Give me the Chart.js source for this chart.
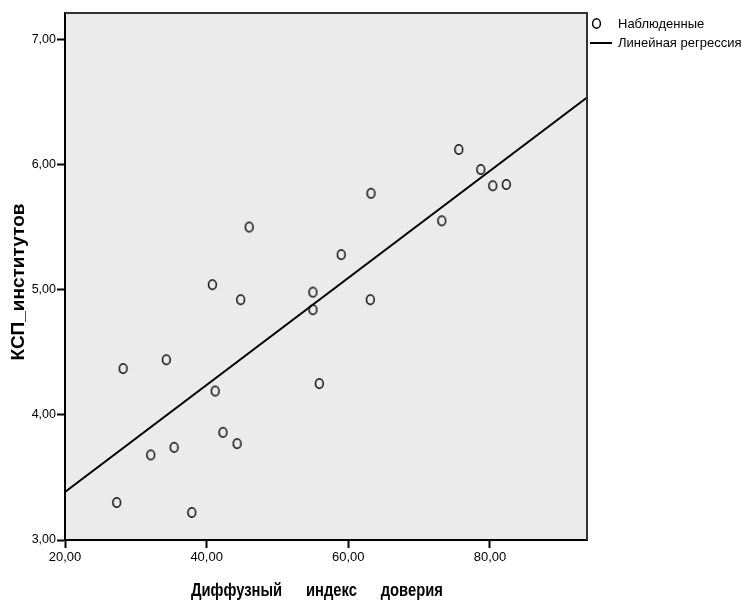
<!DOCTYPE html>
<html>
<head>
<meta charset="utf-8">
<script src="https://cdn.jsdelivr.net/npm/chart.js@4"></script>
<style>
  body { margin: 0; background: #fff; }
  canvas { display: block; }
</style>
</head>
<body>
<canvas id="scatterChart" width="741" height="604"></canvas>
<script>
// данные
const trustIndex = [27.3, 28.2, 32.1, 34.3, 35.4, 37.9, 40.8, 41.2, 42.3, 44.3, 44.8, 46.0,
                    55.0, 55.0, 55.9, 59.0, 63.2, 63.1, 73.2, 75.6, 78.7, 80.4, 82.3];
const kspValues = [3.30, 4.37, 3.68, 4.44, 3.74, 3.22, 5.04, 4.19, 3.86, 3.77, 4.92, 5.50,
                   4.98, 4.84, 4.25, 5.28, 5.77, 4.92, 5.55, 6.12, 5.96, 5.83, 5.84];
const xTicks = [20, 40, 60, 80];
const yTicks = [3, 4, 5, 6, 7];
const xRange = [20, 93.7];
const yRange = [3, 7.21];
const regIntercept = 2.528;
const regSlope = 0.04277;
const xTitleWords = ['Диффузный', 'индекс', 'доверия'];

const fontName = '"Liberation Sans", Arial, sans-serif';

// маркер в виде буквы "О"
function makeMarker() {
    const c = document.createElement('canvas');
    c.width = 11; c.height = 13;
    const g = c.getContext('2d');
    g.strokeStyle = '#000';
    g.lineWidth = 1.4;
    g.beginPath();
    g.ellipse(5.5, 6.5, 3.9, 4.8, 0, 0, Math.PI * 2);
    g.stroke();
    return c;
}
const marker = makeMarker();

const fmt = v => v.toFixed(2).replace('.', ',');

const decor = {
    id: 'decor',
    beforeDraw(chart) {
        const {ctx, chartArea: a} = chart;
        ctx.save();
        ctx.fillStyle = '#ebebeb';
        ctx.fillRect(a.left, a.top, a.right - a.left, a.bottom - a.top);
        ctx.restore();
    },
    afterDraw(chart) {
        const {ctx, chartArea: a} = chart;
        ctx.save();
        // рамка сверху и справа
        ctx.strokeStyle = '#333';
        ctx.lineWidth = 2;
        ctx.beginPath();
        ctx.moveTo(a.left, a.top);
        ctx.lineTo(a.right, a.top);
        ctx.lineTo(a.right, a.bottom);
        ctx.stroke();

        // легенда
        ctx.drawImage(marker, 591, 17);
        ctx.strokeStyle = '#000';
        ctx.lineWidth = 2;
        ctx.beginPath();
        ctx.moveTo(590, 43);
        ctx.lineTo(612, 43);
        ctx.stroke();
        ctx.fillStyle = '#000';
        ctx.font = '13px ' + fontName;
        ctx.textBaseline = 'middle';
        ctx.textAlign = 'left';
        ctx.fillText('Наблюденные', 618, 24);
        ctx.fillText('Линейная регрессия', 618, 43);

        // подпись оси X: узкий жирный шрифт, широкие пробелы
        ctx.save();
        ctx.translate(191, 591);
        ctx.scale(0.82, 1);
        ctx.font = 'bold 18px ' + fontName;
        let x = 0;
        xTitleWords.forEach(w => {
            ctx.fillText(w, x, 0);
            x += ctx.measureText(w).width + 29;
        });
        ctx.restore();

        // подпись оси Y
        ctx.textAlign = 'center';
        ctx.translate(19, 282);
        ctx.rotate(-Math.PI / 2);
        ctx.font = 'bold 19px ' + fontName;
        ctx.fillText('КСП_институтов', 0, 0);
        ctx.restore();
    }
};

const points = trustIndex.map((x, i) => ({x: x, y: kspValues[i]}));
const regLine = xRange.map(x => ({x: x, y: regIntercept + regSlope * x}));

const ctx = document.getElementById('scatterChart').getContext('2d');
const scatterChart = new Chart(ctx, {
    type: 'scatter',
    data: {
        datasets: [{
            label: 'Наблюденные',
            data: points,
            pointStyle: marker,
            pointRadius: 5,
            pointHoverRadius: 5
        }, {
            type: 'line',
            label: 'Линейная регрессия',
            data: regLine,
            borderColor: '#000',
            borderWidth: 2,
            pointRadius: 0,
            fill: false
        }]
    },
    options: {
        responsive: false,
        animation: false,
        layout: {padding: {top: 13, right: 154, left: 0, bottom: 0}},
        plugins: {
            legend: {display: false},
            tooltip: {enabled: false}
        },
        scales: {
            x: {
                type: 'linear',
                min: xRange[0],
                max: xRange[1],
                afterBuildTicks: axis => { axis.ticks = xTicks.map(v => ({value: v})); },
                afterFit: axis => { axis.height = 64; },
                grid: {drawOnChartArea: false, tickLength: 8, color: '#000', tickWidth: 2},
                border: {color: '#000', width: 2},
                ticks: {
                    color: '#000',
                    padding: 2,
                    maxRotation: 0,
                    font: {family: fontName, size: 13},
                    callback: v => fmt(v)
                }
            },
            y: {
                min: yRange[0],
                max: yRange[1],
                afterBuildTicks: axis => { axis.ticks = yTicks.map(v => ({value: v})); },
                afterFit: axis => { axis.width = 65; },
                grid: {drawOnChartArea: false, tickLength: 8, color: '#000', tickWidth: 2},
                border: {color: '#000', width: 2},
                ticks: {
                    color: '#000',
                    padding: 1,
                    font: {family: fontName, size: 12.5},
                    callback: v => fmt(v)
                }
            }
        }
    },
    plugins: [decor]
});
</script>
</body>
</html>
